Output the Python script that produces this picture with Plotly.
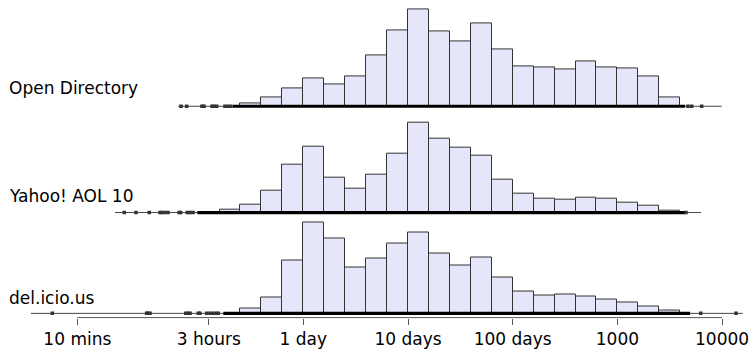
import numpy as np
import plotly.graph_objects as go

# ---------------- data (x values in log10(days)) ----------------
panel_names = ["Open Directory", "Yahoo! AOL 10", "del.icio.us"]

# histogram bin lower edges (log10 days), bin width 0.2 decades
od_edges = [-0.6, -0.4, -0.2, 0.0, 0.2, 0.4, 0.6, 0.8, 1.0, 1.2, 1.4, 1.6, 1.8,
            2.0, 2.2, 2.4, 2.6, 2.8, 3.0, 3.2, 3.4]
od_heights = [3, 9.3, 18.3, 27.7, 21.7, 29.7, 51.3, 76.3, 98.3, 75.3, 66, 84,
              57.3, 40, 39, 37.3, 45.3, 39.7, 38, 29.7, 8.7]

ya_edges = [-0.8, -0.6, -0.4, -0.2, 0.0, 0.2, 0.4, 0.6, 0.8, 1.0, 1.2, 1.4, 1.6,
            1.8, 2.0, 2.2, 2.4, 2.6, 2.8, 3.0, 3.2, 3.4]
ya_heights = [2.7, 7.7, 21.7, 48.7, 67, 35, 24, 38, 59.7, 90.7, 74.7, 65.3, 58,
              33.7, 18.7, 13.7, 12.7, 14.7, 13.7, 10, 6.7, 2]

de_edges = [-0.6, -0.4, -0.2, 0.0, 0.2, 0.4, 0.6, 0.8, 1.0, 1.2, 1.4, 1.6, 1.8,
            2.0, 2.2, 2.4, 2.6, 2.8, 3.0, 3.2, 3.4]
de_heights = [4.7, 15.7, 53, 91.7, 76, 46.7, 55.7, 70.7, 82, 60.7, 48.7, 56.7,
              36, 21.7, 18.3, 19, 17.3, 13.7, 11.3, 6.7, 3]

bin_width = 0.2

# rug: isolated observations (log10 days)
od_rug = [-1.168, -1.114, -0.968, -0.948, -0.872, -0.853, -0.827, -0.748,
          -0.719, -0.691, 3.674, 3.710, 3.805]
ya_rug = [-1.710, -1.598, -1.471, -1.369, -1.350, -1.321, -1.292, -1.187,
          -1.171, -1.108, -1.082, -1.053, 3.655]
de_rug = [-2.397, -1.496, -1.483, -1.464, -1.123, -1.101, -1.082, -1.003,
          -0.987, -0.923, -0.892, -0.862, -0.834, -0.812, 3.796, 4.133]

# rug: range of densely packed observations (log10 days)
od_dense = [-0.671, 3.646]
ya_dense = [-1.012, 3.646]
de_dense = [-0.764, 3.694]

# extent of each panel's rug line (log10 days)
od_span = [-1.194, 3.996]
ya_span = [-1.798, 3.799]
de_span = [-2.601, 4.197]

# x-axis ticks
tick_days = [10 / 1440, 3 / 24, 1, 10, 100, 1000, 10000]
tick_text = ["10 mins", "3 hours", "1 day", "10 days", "100 days", "1000", "10000"]

# ---------------- figure ----------------
W, H = 751, 349
FONT = "DejaVu Sans"
FS = 17

baselines_px = [107.5, 215.0, 317.0]
label_offsets = [18.5, 16.5, 15.5]
y_lo, y_hi = -10, 100


def dom(base_px):
    return [1 - (base_px - y_lo) / H, 1 - (base_px - y_hi) / H]


fig = go.Figure()
panels = [
    (od_edges, od_heights, od_rug, od_dense, od_span),
    (ya_edges, ya_heights, ya_rug, ya_dense, ya_span),
    (de_edges, de_heights, de_rug, de_dense, de_span),
]

for i, (edges, heights, rug, dense, span) in enumerate(panels):
    yref = "y" if i == 0 else f"y{i+1}"
    centers = [e + bin_width / 2 for e in edges]
    fig.add_trace(go.Bar(
        x=centers, y=heights, width=bin_width, base=0,
        marker=dict(color="#E6E6FA", line=dict(color="#333333", width=1)),
        xaxis="x", yaxis=yref, showlegend=False, hoverinfo="skip"))
    # thin rug line
    fig.add_trace(go.Scatter(
        x=span, y=[0, 0], mode="lines", line=dict(color="#444444", width=1),
        xaxis="x", yaxis=yref, showlegend=False, hoverinfo="skip"))
    # dense rug region
    fig.add_trace(go.Scatter(
        x=dense, y=[0, 0], mode="lines", line=dict(color="#000000", width=3.2),
        xaxis="x", yaxis=yref, showlegend=False, hoverinfo="skip"))
    # isolated rug points
    fig.add_trace(go.Scatter(
        x=rug, y=[0] * len(rug), mode="markers",
        marker=dict(symbol="square", size=3.5, color="#333333", line=dict(width=0)),
        xaxis="x", yaxis=yref, showlegend=False, hoverinfo="skip"))

tickvals = list(np.log10(tick_days))

# x-axis line between first and last tick
fig.add_shape(type="line", xref="x", yref="paper",
              x0=tickvals[0], x1=tickvals[-1],
              y0=1 - 321.3 / H, y1=1 - 321.3 / H,
              line=dict(color="#555555", width=1))

px_per_decade = 104.7
x0_px = 303.3
xrange = [-x0_px / px_per_decade, (W - x0_px) / px_per_decade]

layout_axes = {}
for i, b in enumerate(baselines_px):
    key = "yaxis" if i == 0 else f"yaxis{i+1}"
    layout_axes[key] = dict(domain=dom(b), range=[y_lo, y_hi], visible=False,
                            anchor="x", fixedrange=True)

fig.update_layout(
    width=W, height=H,
    margin=dict(l=0, r=0, t=0, b=0),
    paper_bgcolor="white", plot_bgcolor="white",
    bargap=0,
    xaxis=dict(range=xrange, anchor="free", position=1 - 321.3 / H,
               tickvals=tickvals, ticktext=tick_text, ticks="outside",
               ticklen=6, tickcolor="#555555", tickwidth=1,
               showline=False, showgrid=False, zeroline=False, fixedrange=True,
               tickfont=dict(family=FONT, size=FS, color="#000000")),
    font=dict(family=FONT, size=FS, color="#000000"),
    **layout_axes,
)

for i, name in enumerate(panel_names):
    yref = "y" if i == 0 else f"y{i+1}"
    fig.add_annotation(text=name, xref="paper", yref=yref, x=0,
                       y=label_offsets[i],
                       xanchor="left", yanchor="middle", xshift=7,
                       showarrow=False,
                       font=dict(family=FONT, size=FS, color="#000000"))

fig.write_html(
    "out.html",
    config={"displayModeBar": False},
    post_script="document.body.style.margin='0';document.body.style.padding='0';"
                "document.body.style.overflow='hidden';",
)
